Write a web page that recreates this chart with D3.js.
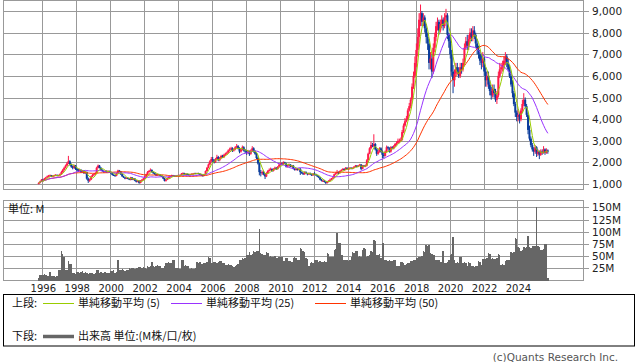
<!DOCTYPE html>
<html>
<head>
<meta charset="utf-8">
<script src="https://cdn.jsdelivr.net/npm/d3@7"></script>
<style>
  body { margin: 0; background: #fff; }
  text { font-family: "DejaVu Sans", sans-serif; }
  .jp { font-family: "Noto Sans CJK JP", sans-serif; }
</style>
</head>
<body>
<svg id="chart" width="638" height="362"></svg>
<script>
// monthly bars, first one is Oct 1995
const firstMonth = new Date(1995, 9, 1);

const close = [
  1050,1120,1200,
  1180,1250,1300,1350,1380,1400,1350,1380,1400,1420,1380,1400,
  1450,1550,1650,1750,1850,1950,2050,1900,1800,1750,1850,1700,
  1650,1600,1650,1550,1600,1500,1550,1250,1150,1200,1350,1420,
  1450,1500,1750,1850,1750,1650,1600,1550,1600,1550,1600,1550,
  1500,1420,1400,1380,1500,1620,1580,1450,1350,1300,1250,1280,
  1250,1200,1300,1200,1250,1150,1100,1150,1050,1150,1200,1250,
  1350,1450,1550,1600,1650,1550,1500,1450,1400,1450,1420,1380,
  1350,1250,1150,1200,1280,1320,1350,1400,1380,1350,1380,1400,
  1400,1420,1480,1500,1450,1470,1450,1420,1450,1470,1480,1500,
  1480,1500,1470,1450,1400,1380,1450,1600,1750,1900,2050,2150,
  2100,2000,2150,2250,2100,2200,2300,2250,2350,2400,2450,2550,
  2600,2650,2550,2600,2700,2750,2650,2500,2600,2700,2550,2500,
  2450,2500,2400,2550,2650,2500,2400,2200,1950,1550,1500,1550,
  1450,1350,1500,1600,1650,1700,1600,1700,1750,1700,1800,1900,
  1950,1900,2000,1950,1800,1850,1900,1800,1850,1700,1650,1700,
  1650,1700,1550,1500,1450,1550,1500,1450,1500,1450,1400,1480,
  1450,1400,1350,1300,1200,1150,1150,1100,1050,1100,1150,1200,
  1250,1300,1450,1500,1550,1500,1600,1650,1700,1650,1750,1700,
  1700,1750,1700,1750,1800,1850,1800,1850,1900,1700,1850,1800,
  1850,2100,2400,2650,2800,2750,2850,2600,2400,2500,2650,2500,
  2350,2300,2500,2700,2650,2500,2700,2650,2750,2850,2900,3000,
  3000,3050,3400,3700,3900,4000,4400,4600,4900,5500,6000,6600,
  7200,7800,8600,8900,8500,8700,8200,7800,7500,6600,6800,6200,
  7300,7800,8300,8500,8100,8400,8600,8300,8700,8800,7900,7600,
  7000,6200,5800,6100,6400,6200,6000,6400,6300,6600,7300,7600,
  7400,7700,8000,7800,8100,7900,7500,7200,7000,6700,6600,6800,
  6200,5800,6000,5600,5300,5100,5400,5200,4900,5100,6000,6300,
  6400,6500,6700,6900,6600,6300,6000,5600,5200,4700,4300,4100,
  4200,4000,4400,4700,4900,4600,4200,3500,3100,2800,2600,2500,
  2700,2400,2500,2350,2500,2450,2600,2450,2550,2500
];

const high = [
  1080,1150,1230,
  1240,1280,1330,1390,1420,1440,1420,1410,1430,1460,1440,1430,
  1490,1600,1700,1800,1900,2020,2300,2100,1950,1850,1900,1880,
  1750,1700,1700,1680,1650,1630,1600,1580,1300,1250,1380,1460,
  1490,1540,1800,1900,1880,1780,1680,1630,1640,1630,1640,1620,
  1580,1530,1450,1430,1530,1660,1650,1600,1470,1380,1320,1310,
  1310,1270,1330,1320,1280,1270,1180,1180,1170,1180,1230,1280,
  1380,1480,1600,1650,1720,1680,1580,1530,1480,1480,1470,1440,
  1400,1370,1280,1230,1300,1350,1380,1430,1420,1400,1400,1420,
  1430,1440,1510,1540,1520,1490,1490,1470,1470,1490,1500,1520,
  1520,1520,1520,1490,1460,1420,1470,1630,1790,1950,2100,2250,
  2250,2150,2200,2350,2300,2250,2350,2350,2400,2450,2500,2600,
  2680,2720,2700,2650,2750,2850,2800,2700,2650,2780,2750,2620,
  2560,2580,2550,2600,2750,2700,2560,2450,2250,2000,1650,1620,
  1600,1500,1550,1650,1720,1760,1720,1730,1800,1780,1830,1950,
  2000,1990,2050,2030,1980,1880,1950,1920,1880,1880,1740,1730,
  1740,1730,1740,1580,1530,1580,1590,1520,1530,1530,1480,1500,
  1550,1480,1430,1380,1320,1230,1200,1180,1120,1130,1180,1250,
  1280,1340,1480,1550,1650,1580,1630,1680,1730,1720,1780,1770,
  1760,1780,1770,1770,1830,1880,1870,1880,1930,1920,1880,1880,
  1900,2150,2450,2700,2950,2900,3300,2900,2650,2600,2700,2700,
  2550,2450,2550,2780,2750,2700,2750,2750,2800,2900,2980,3100,
  3100,3150,3500,3800,4050,4150,4500,4750,5000,5650,6200,6900,
  7500,8200,8900,9300,9000,8900,8800,8400,8000,7700,7100,7000,
  7500,8000,8500,8700,8600,8600,8800,8700,8900,9100,8900,8000,
  7800,7200,6500,6300,6600,6600,6400,6600,6600,6800,7500,7800,
  7900,7900,8200,8200,8300,8300,8000,7700,7400,7200,7000,7100,
  6900,6400,6200,6200,5800,5500,5600,5600,5400,5300,6200,6600,
  6600,6700,6900,7100,7000,6800,6500,6200,5800,5300,4800,4400,
  4400,4300,4500,4900,5200,5000,4700,4300,3700,3200,2900,2700,
  2800,2750,2600,2550,2600,2600,2750,2650,2650,2600
];

const low = [
  980,1030,1100,
  1150,1160,1230,1280,1320,1350,1320,1330,1360,1380,1350,1360,
  1380,1430,1520,1620,1720,1820,1920,1850,1750,1680,1700,1650,
  1600,1560,1570,1520,1520,1470,1470,1200,1050,1100,1180,1320,
  1380,1420,1480,1720,1720,1620,1570,1520,1520,1520,1530,1520,
  1470,1400,1370,1350,1360,1480,1560,1420,1330,1280,1220,1230,
  1220,1180,1170,1180,1180,1130,1070,1080,1010,1030,1130,1180,
  1230,1320,1420,1520,1570,1530,1470,1420,1370,1380,1400,1350,
  1320,1230,1120,1110,1180,1260,1300,1330,1360,1330,1330,1360,
  1370,1380,1400,1460,1430,1430,1430,1400,1400,1430,1450,1460,
  1460,1460,1450,1430,1380,1360,1370,1440,1580,1720,1870,2000,
  2000,1950,1980,2100,2050,2050,2150,2200,2200,2300,2350,2420,
  2500,2550,2480,2500,2560,2650,2600,2420,2450,2550,2500,2420,
  2350,2380,2300,2350,2500,2450,2350,2150,1900,1400,1350,1420,
  1400,1230,1320,1470,1570,1620,1560,1580,1670,1650,1660,1770,
  1870,1870,1880,1920,1760,1760,1820,1780,1780,1680,1620,1620,
  1620,1620,1420,1470,1420,1430,1480,1400,1420,1420,1370,1380,
  1420,1380,1320,1270,1170,1120,1100,1070,1000,1020,1080,1130,
  1180,1230,1280,1420,1460,1450,1480,1580,1630,1620,1630,1680,
  1650,1680,1680,1680,1730,1780,1780,1780,1830,1640,1680,1780,
  1780,1820,2080,2380,2600,2700,2700,2550,2300,2350,2450,2450,
  2200,2200,2270,2450,2600,2450,2450,2600,2600,2700,2780,2850,
  2900,2950,3000,3350,3650,3850,3950,4350,4500,4850,5400,5900,
  6400,6900,7500,8300,8300,8300,8000,7500,7200,6300,6300,5900,
  6100,7100,7600,8100,7900,8000,8200,8100,8200,8500,7700,7300,
  6800,6000,5200,5500,6000,6100,5900,5900,6100,6200,6500,7200,
  7200,7200,7500,7600,7600,7700,7300,7000,6800,6500,6300,6400,
  6000,5500,5500,5400,5100,4900,5000,5000,4800,4700,5000,5900,
  6100,6200,6300,6500,6400,6200,5900,5500,5000,4600,4100,3900,
  3900,3800,3900,4300,4600,4500,4100,3300,3000,2700,2500,2300,
  2400,2250,2300,2150,2300,2350,2400,2350,2400,2400
];

// millions of shares
const volume = [
  6,12,12,
  12,13,11,10,10,18,9,9,10,8,9,22,
  22,61,55,49,22,21,40,34,33,15,16,14,
  17,18,16,17,19,16,17,15,14,16,15,15,
  14,16,22,21,16,17,15,16,17,16,15,16,
  20,19,21,15,18,42,22,21,23,22,20,22,
  22,25,24,26,25,24,25,26,27,28,26,27,
  25,24,29,28,30,38,29,28,30,31,29,30,
  25,26,29,36,35,37,36,35,42,41,25,26,
  25,24,42,41,30,31,29,30,24,25,23,24,
  25,37,36,38,34,33,36,35,37,48,47,36,
  36,37,38,36,37,39,40,36,35,32,31,33,
  32,31,29,28,30,32,33,42,41,46,45,47,
  53,52,58,53,54,60,59,61,60,105,56,55,
  53,52,58,57,49,50,48,49,50,47,46,48,
  49,48,39,40,47,46,39,40,38,47,48,46,
  42,41,66,65,60,59,46,45,29,36,37,35,
  42,43,41,38,39,37,38,39,37,56,55,49,
  49,48,63,64,97,77,76,53,52,42,43,41,
  40,41,49,58,57,61,60,49,50,48,63,66,
  65,49,50,53,60,59,82,81,53,52,54,46,
  77,76,42,43,40,41,39,40,42,43,29,30,
  29,37,38,36,32,33,36,35,39,40,42,43,
  47,46,48,49,50,60,59,72,71,73,56,55,
  53,52,42,43,41,37,38,60,36,35,37,42,
  53,55,90,42,36,37,35,49,48,36,37,35,
  29,37,36,29,30,28,29,30,39,38,32,45,
  45,44,46,56,55,45,46,44,45,46,54,53,
  32,33,31,40,41,42,43,58,57,59,87,86,
  68,67,61,62,68,67,69,92,68,67,70,71,
  70,150,70,69,63,62,64,75,74,5
];

const yearTicks = [1996, 1998, 2000, 2002, 2004, 2006, 2008, 2010, 2012, 2014, 2016, 2018, 2020, 2022, 2024];
const priceTicks = [1000, 2000, 3000, 4000, 5000, 6000, 7000, 8000, 9000];
const volumeTicks = [25, 50, 75, 100, 125, 150];
const maPeriods = [5, 25, 50];

const maColors = ["#99cc00", "#9933ff", "#ff3300"];
const upColor = "#ff1a4a", downColor = "#0a3c9c";
const gridColor = "#999999";

const dates = close.map((c, i) => new Date(firstMonth.getFullYear(), firstMonth.getMonth() + i, 1));
const nextDates = close.map((c, i) => new Date(firstMonth.getFullYear(), firstMonth.getMonth() + i + 1, 1));
const open = close.map((c, i) => i === 0 ? 1000 : close[i - 1]);

const svg = d3.select("#chart");

const x = d3.scaleTime()
    .domain([new Date(1993, 8, 29), new Date(2027, 10, 12)])
    .range([4, 583]);
const yPrice = d3.scaleLinear().domain([1000, 9000]).range([184, 11]);
const yVol = d3.scaleLinear().domain([0, 150]).range([280.5, 207.3]);

const mid = d => new Date(d.getFullYear(), d.getMonth(), 16);
const px = v => Math.round(v) + 0.5;

const panels = [
    {top: 1, bottom: 190, y: yPrice, ticks: priceTicks, fmt: d3.format(",")},
    {top: 201, bottom: 281, y: yVol, ticks: volumeTicks, fmt: d => d + "M"}
];

panels.forEach(p => {
    const g = svg.append("g").attr("shape-rendering", "crispEdges");
    g.selectAll(".hg")
        .data(p.ticks)
        .enter().append("line")
        .attr("x1", 4).attr("x2", 583)
        .attr("y1", d => px(p.y(d))).attr("y2", d => px(p.y(d)))
        .attr("stroke", gridColor);
    g.selectAll(".vg")
        .data(yearTicks)
        .enter().append("line")
        .attr("x1", d => px(x(new Date(d, 0, 1)))).attr("x2", d => px(x(new Date(d, 0, 1))))
        .attr("y1", p.top).attr("y2", p.bottom)
        .attr("stroke", gridColor);
    g.append("rect")
        .attr("x", 3.5).attr("y", p.top - 0.5)
        .attr("width", 580).attr("height", p.bottom - p.top)
        .attr("fill", "none").attr("stroke", gridColor);
    // right axis ticks
    g.selectAll(".tk")
        .data(p.ticks)
        .enter().append("line")
        .attr("x1", 583).attr("x2", 589)
        .attr("y1", d => px(p.y(d))).attr("y2", d => px(p.y(d)))
        .attr("stroke", gridColor);
    svg.selectAll(null)
        .data(p.ticks)
        .enter().append("text")
        .attr("x", 592)
        .attr("y", d => p.y(d) + 4)
        .attr("font-size", 10.5)
        .attr("fill", "#222")
        .text(p.fmt);
});

svg.append("defs").append("clipPath").attr("id", "clipTop")
    .append("rect").attr("x", 4).attr("y", 1).attr("width", 579).attr("height", 189);

// volume bars, snapped to whole pixels so neighbours touch
svg.append("g")
    .attr("shape-rendering", "crispEdges")
    .selectAll("rect")
    .data(volume)
    .enter().append("rect")
    .attr("x", (d, i) => Math.round(x(dates[i])))
    .attr("width", (d, i) => Math.max(1, Math.round(x(nextDates[i])) - Math.round(x(dates[i]))))
    .attr("y", d => Math.round(yVol(d)))
    .attr("height", d => Math.round(yVol(0)) - Math.round(yVol(d)))
    .attr("fill", "#666666");

// candles
const candles = svg.append("g").attr("clip-path", "url(#clipTop)");
const idx = d3.range(close.length);
candles.selectAll(".wick")
    .data(idx)
    .enter().append("rect")
    .attr("x", i => x(mid(dates[i])) - 0.5)
    .attr("width", 1)
    .attr("y", i => yPrice(high[i]))
    .attr("height", i => yPrice(low[i]) - yPrice(high[i]))
    .attr("fill", i => close[i] >= open[i] ? upColor : downColor);
candles.selectAll(".body")
    .data(idx)
    .enter().append("rect")
    .attr("x", i => x(mid(dates[i])) - 1)
    .attr("width", 2)
    .attr("y", i => yPrice(Math.max(open[i], close[i])))
    .attr("height", i => Math.max(1, Math.abs(yPrice(open[i]) - yPrice(close[i]))))
    .attr("fill", i => close[i] >= open[i] ? upColor : downColor);

// simple moving averages
const sma = n => close.map((c, i) => d3.mean(close.slice(Math.max(0, i - n + 1), i + 1)));
const line = d3.line()
    .x((d, i) => x(mid(dates[i])))
    .y(d => yPrice(d));
[2, 1, 0].forEach(j => {
    candles.append("path")
        .datum(sma(maPeriods[j]))
        .attr("d", line)
        .attr("fill", "none")
        .attr("stroke", maColors[j])
        .attr("stroke-width", 1);
});

// x labels
svg.selectAll(".xl")
    .data(yearTicks)
    .enter().append("text")
    .attr("x", d => x(new Date(d, 0, 1)) + 1)
    .attr("y", 291.5)
    .attr("text-anchor", "middle")
    .attr("font-size", 10)
    .attr("fill", "#222")
    .text(d => d);

svg.append("text")
    .attr("class", "jp")
    .attr("x", 8).attr("y", 213)
    .attr("font-size", 11)
    .attr("fill", "#111")
    .text("単位: M");

// legend
const legend = svg.append("g");
legend.append("rect")
    .attr("x", 3.5).attr("y", 294.5)
    .attr("width", 631).attr("height", 51.5)
    .attr("fill", "none").attr("stroke", "#000");

const legendRows = [
    {y: 307, label: "上段:"},
    {y: 340, label: "下段:"}
];
legend.selectAll(".lr")
    .data(legendRows)
    .enter().append("text")
    .attr("class", "jp")
    .attr("x", 12).attr("y", d => d.y)
    .attr("font-size", 11).attr("fill", "#111")
    .text(d => d.label);

const maLegendX = [43, 171, 315];
maPeriods.forEach((n, i) => {
    legend.append("line")
        .attr("x1", maLegendX[i]).attr("x2", maLegendX[i] + 31)
        .attr("y1", 303.5).attr("y2", 303.5)
        .attr("stroke", maColors[i]).attr("stroke-width", 1);
    legend.append("text")
        .attr("class", "jp")
        .attr("x", maLegendX[i] + 35).attr("y", 307)
        .attr("font-size", 11).attr("fill", "#111")
        .text(`単純移動平均 (${n})`);
});
legend.append("line")
    .attr("x1", 43).attr("x2", 74)
    .attr("y1", 336.5).attr("y2", 336.5)
    .attr("stroke", "#666666").attr("stroke-width", 3.5);
legend.append("text")
    .attr("class", "jp")
    .attr("x", 78).attr("y", 340)
    .attr("font-size", 11).attr("fill", "#111")
    .text("出来高 単位:(M株/口/枚)");

svg.append("text")
    .attr("x", 618).attr("y", 361)
    .attr("text-anchor", "end")
    .attr("font-size", 10.5)
    .attr("fill", "#555")
    .text("(c)Quants Research Inc.");
</script>
</body>
</html>
